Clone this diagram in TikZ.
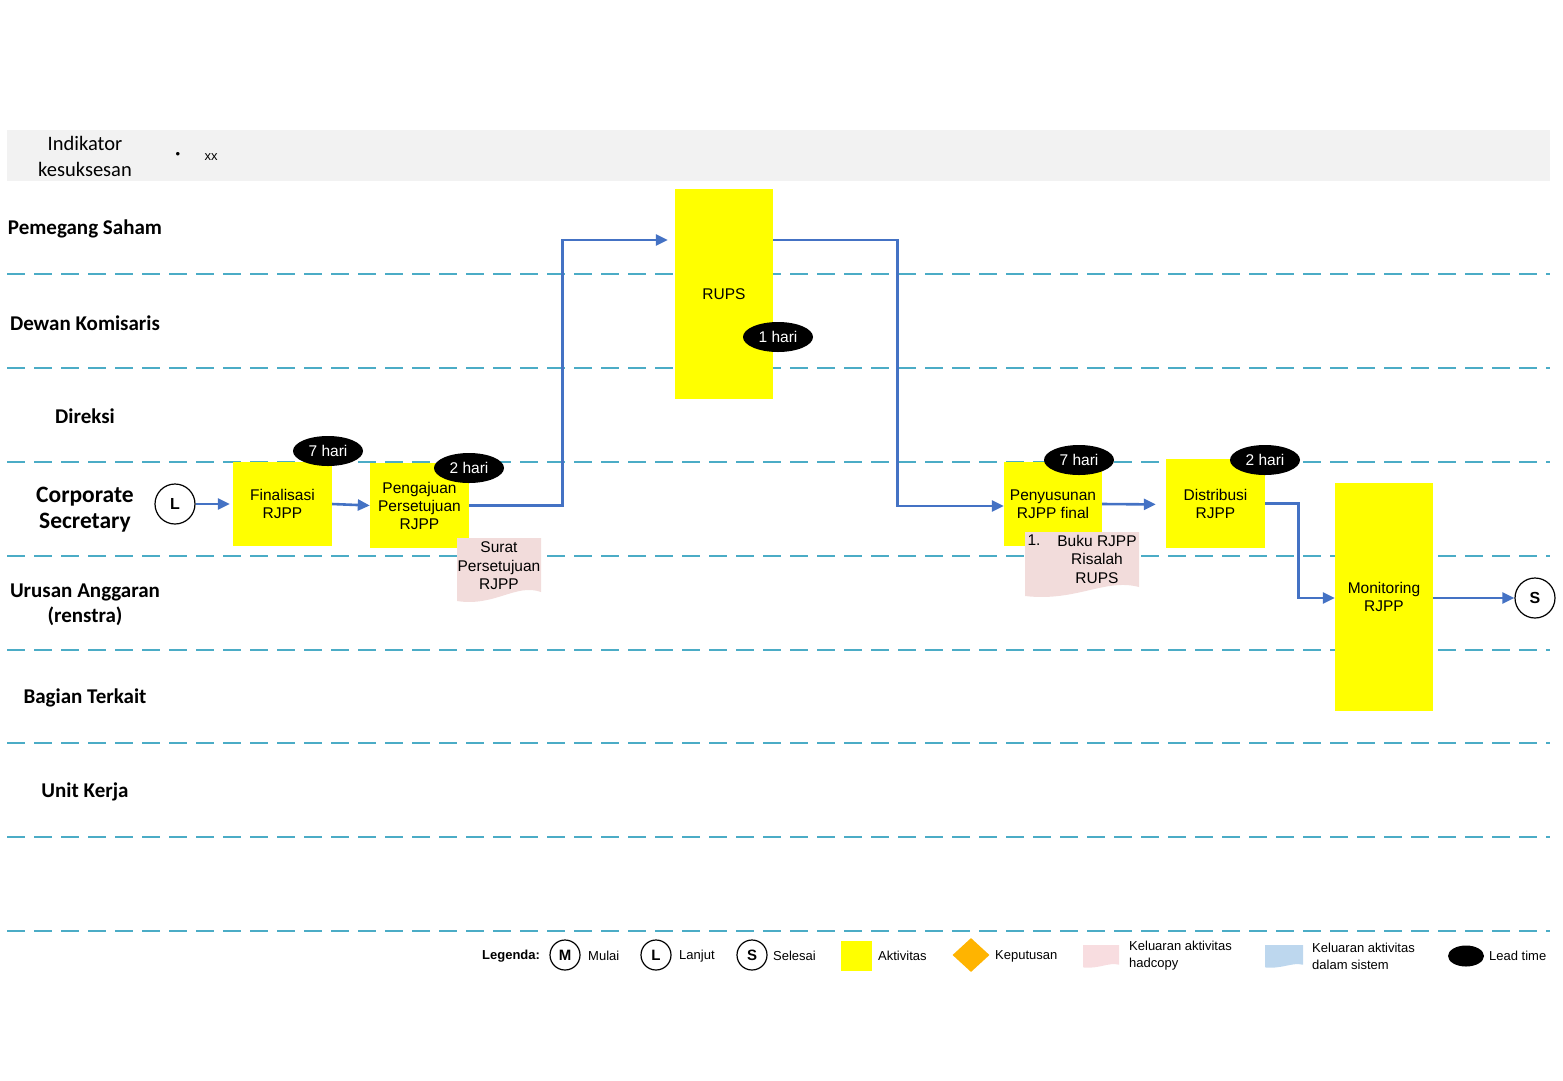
\documentclass[tikz,border=0pt]{standalone}
\usepackage{fontspec}
\setmainfont{Liberation Sans}
\newfontfamily\lanefont{Carlito}
\usetikzlibrary{arrows.meta,shapes.geometric,calc}
\definecolor{lanecol}{HTML}{4BACC6}
\definecolor{flowcol}{HTML}{4472C4}
\definecolor{actcol}{HTML}{FFFF00}
\definecolor{doccol}{HTML}{F2DCDB}
\definecolor{legdoccol}{HTML}{F8DDE0}
\definecolor{syscol}{HTML}{BDD7EE}
\definecolor{deccol}{HTML}{FFB400}
\definecolor{headcol}{HTML}{F2F2F2}
% document shape with a wavy lower edge: left, top, right, bottom, wave depth, colour
\newcommand{\docshape}[6]{%
  \fill[#6] (#1,#2) -- (#3,#2) -- (#3,{#4-0.55*#5})
    .. controls ({#3-0.3*(#3-#1)},{#4-#5}) and ({#1+0.45*(#3-#1)},{#4+0.2*#5}) .. (#1,{#4-0.1*#5}) -- cycle;}
\begin{document}
\begin{tikzpicture}[x=1pt,y=-1pt,
  lane/.style={draw=lanecol,line width=2pt,dash pattern=on 18pt off 9pt},
  lanelabel/.style={font=\lanefont\bfseries\fontsize{21}{25}\selectfont,align=center},
  activity/.style={fill=actcol,inner sep=0pt,align=center,font=\fontsize{15.5}{18}\selectfont},
  leadtime/.style={ellipse,fill=black,text=white,minimum width=70pt,minimum height=30pt,inner sep=0pt,font=\fontsize{15.5}{18}\selectfont},
  doctext/.style={align=center,font=\fontsize{15.5}{18.5}\selectfont,inner sep=0pt},
  endpoint/.style={circle,draw=black,line width=1.2pt,fill=white,minimum size=40pt,inner sep=0pt,font=\bfseries\fontsize{16}{18}\selectfont},
  legcircle/.style={circle,draw=black,line width=1.2pt,minimum size=30pt,inner sep=0pt,font=\bfseries\fontsize{15}{18}\selectfont},
  legtext/.style={anchor=west,align=left,inner sep=0pt,font=\fontsize{13}{17}\selectfont},
  flow/.style={draw=flowcol,line width=2.6pt,-{Triangle[length=12pt,width=11pt]}}]

\useasboundingbox (0,0) rectangle (1563,1080);

% header band
\fill[headcol] (7,130) rectangle (1550,181);
\node[font=\lanefont\fontsize{20.5}{26}\selectfont,align=center] (indik) at (85,156) {Indikator\\kesuksesan};
\node[font=\fontsize{13}{15}\selectfont] (bullet) at (178,155) {•};
\node[font=\fontsize{13}{15}\selectfont] (xx) at (211,157) {xx};

% swimlane separators
\foreach \yy in {274,368,462,556,650,743,837,931}
  \draw[lane] (7,\yy) -- (1550,\yy);

% lane labels
\node[lanelabel] (l1) at (85,229) {Pemegang Saham};
\node[lanelabel] (l2) at (85,323) {Dewan Komisaris};
\node[lanelabel] (l3) at (85,416) {Direksi};
\node[lanelabel,font=\lanefont\bfseries\fontsize{23.5}{26}\selectfont] (l4) at (85,510) {Corporate\\Secretary};
\node[lanelabel] (l5) at (85,605) {Urusan Anggaran\\(renstra)};
\node[lanelabel] (l6) at (85,698) {Bagian Terkait};
\node[lanelabel] (l7) at (85,792) {Unit Kerja};

% activities
\node[activity,minimum width=99pt,minimum height=84pt] (fin) at (282.5,504) {Finalisasi\\RJPP};
\node[activity,minimum width=99pt,minimum height=85pt] (peng) at (419.5,505.5) {Pengajuan\\Persetujuan\\RJPP};
\node[activity,minimum width=98pt,minimum height=210pt] (rups) at (724,294) {RUPS};
\node[activity,minimum width=98pt,minimum height=84pt] (peny) at (1053,504) {Penyusunan\\RJPP final};
\node[activity,minimum width=99pt,minimum height=89pt] (dist) at (1215.5,503.5) {Distribusi\\RJPP};
\node[activity,minimum width=98pt,minimum height=228pt] (mon) at (1384,597) {Monitoring\\RJPP};

% outputs (hardcopy)
\docshape{457}{538}{541}{603}{20}{doccol}
\node[doctext] (surat) at (499,566) {Surat\\Persetujuan\\RJPP};
\docshape{1025}{532}{1139}{598}{20}{doccol}
\node[doctext] (buku) at (1097,559) {Buku RJPP\\Risalah\\RUPS};
\node[font=\fontsize{15.5}{18}\selectfont,inner sep=0pt] (bukunum) at (1034,540) {1.};

% start / end connectors
\node[endpoint] (lstart) at (175,504) {L};
\node[endpoint] (send) at (1535,598) {S};

% flows
\draw[flow,shorten >=3pt] (lstart.east) -- (fin.west);
\draw[flow] (fin.east) -- (peng.west);
\draw[flow,shorten >=7pt] (peng.east) -- ++(93,0) |- ([yshift=54pt]rups.west);
\draw[flow] ([yshift=54pt]rups.east) -- ++(124,0) |- ([yshift=-2pt]peny.west);
\draw[flow,shorten >=10pt] (peny.east) -- ([yshift=-1pt]dist.west);
\draw[flow] (dist.east) -- ++(33,0) |- ([yshift=-1pt]mon.west);
\draw[flow] ([yshift=-1pt]mon.east) -- (send.west);

% lead times
\node[leadtime] (t1) at (328,451) {7 hari};
\node[leadtime] (t2) at (469,468) {2 hari};
\node[leadtime] (t3) at (778,337) {1 hari};
\node[leadtime] (t4) at (1079,460) {7 hari};
\node[leadtime] (t5) at (1265,460) {2 hari};

% legend
\node[legtext,font=\bfseries\fontsize{13}{17}\selectfont] (legtitle) at (482,956) {Legenda:};
\node[legcircle] (legm) at (565,955) {M};
\node[legtext] (legmt) at (588,956) {Mulai};
\node[legcircle] (legl) at (656,955) {L};
\node[legtext] (leglt) at (679,956) {Lanjut};
\node[legcircle] (legs) at (752,955) {S};
\node[legtext] (legst) at (773,956) {Selesai};
\fill[actcol] (841,941) rectangle (872,971);
\node[legtext] (legat) at (878,956) {Aktivitas};
\node[diamond,fill=deccol,minimum width=37pt,minimum height=34pt,inner sep=0pt] (legd) at (971,955) {};
\node[legtext] (legdt) at (995,956) {Keputusan};
\docshape{1083}{945}{1119}{968}{6}{legdoccol}
\node[legtext] (leghc) at (1129,956) {Keluaran aktivitas\\hadcopy};
\docshape{1265}{945}{1303}{968}{6}{syscol}
\node[legtext] (legsys) at (1312,956) {Keluaran aktivitas\\dalam sistem};
\node[ellipse,fill=black,minimum width=36pt,minimum height=21pt,inner sep=0pt] (legle) at (1466,956) {};
\node[legtext] (leglet) at (1489,956) {Lead time};
\end{tikzpicture}
\end{document}
